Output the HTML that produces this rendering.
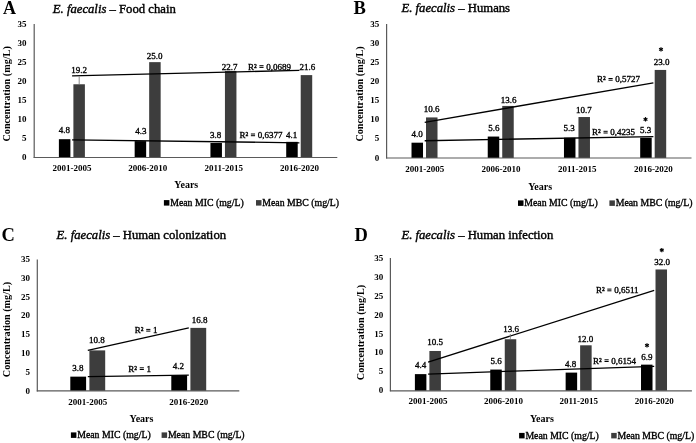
<!DOCTYPE html>
<html><head><meta charset="utf-8"><style>
html,body{margin:0;padding:0;background:#fff;}
svg{display:block;font-family:'Liberation Serif', serif;filter:blur(0.4px);}
</style></head><body>
<svg width="696" height="443" viewBox="0 0 696 443">
<rect width="696" height="443" fill="#fff"/>
<rect x="58.89" y="139.19" width="11.50" height="18.31" fill="#000000"/>
<rect x="73.39" y="84.27" width="11.50" height="73.23" fill="#3d3d3d"/>
<rect x="134.66" y="141.10" width="11.50" height="16.40" fill="#000000"/>
<rect x="149.16" y="62.14" width="11.50" height="95.36" fill="#3d3d3d"/>
<rect x="210.44" y="143.01" width="11.50" height="14.49" fill="#000000"/>
<rect x="224.94" y="70.92" width="11.50" height="86.58" fill="#3d3d3d"/>
<rect x="286.21" y="141.86" width="11.50" height="15.64" fill="#000000"/>
<rect x="300.71" y="75.11" width="11.50" height="82.39" fill="#3d3d3d"/>
<line x1="34.20" y1="24.00" x2="34.20" y2="158.00" stroke="#5a5a5a" stroke-width="1.2"/>
<line x1="33.70" y1="157.50" x2="337.30" y2="157.50" stroke="#5a5a5a" stroke-width="1.2"/>
<text x="26.50" y="160.10" font-size="9" font-weight="bold" text-anchor="end" font-style="normal" fill="#000" >0</text>
<text x="26.50" y="141.03" font-size="9" font-weight="bold" text-anchor="end" font-style="normal" fill="#000" >5</text>
<text x="26.50" y="121.96" font-size="9" font-weight="bold" text-anchor="end" font-style="normal" fill="#000" >10</text>
<text x="26.50" y="102.89" font-size="9" font-weight="bold" text-anchor="end" font-style="normal" fill="#000" >15</text>
<text x="26.50" y="83.81" font-size="9" font-weight="bold" text-anchor="end" font-style="normal" fill="#000" >20</text>
<text x="26.50" y="64.74" font-size="9" font-weight="bold" text-anchor="end" font-style="normal" fill="#000" >25</text>
<text x="26.50" y="45.67" font-size="9" font-weight="bold" text-anchor="end" font-style="normal" fill="#000" >30</text>
<text x="26.50" y="26.60" font-size="9" font-weight="bold" text-anchor="end" font-style="normal" fill="#000" >35</text>
<text x="72.09" y="171.30" font-size="9" font-weight="bold" text-anchor="middle" font-style="normal" fill="#000" >2001-2005</text>
<text x="147.86" y="171.30" font-size="9" font-weight="bold" text-anchor="middle" font-style="normal" fill="#000" >2006-2010</text>
<text x="223.64" y="171.30" font-size="9" font-weight="bold" text-anchor="middle" font-style="normal" fill="#000" >2011-2015</text>
<text x="299.41" y="171.30" font-size="9" font-weight="bold" text-anchor="middle" font-style="normal" fill="#000" >2016-2020</text>
<line x1="72.09" y1="75.91" x2="299.41" y2="70.31" stroke="#000" stroke-width="1.3"/>
<line x1="72.09" y1="139.80" x2="299.41" y2="142.78" stroke="#000" stroke-width="1.3"/>
<line x1="79.20" y1="76.50" x2="79.20" y2="84.00" stroke="#707070" stroke-width="0.8"/>
<text x="64.40" y="133.30" font-size="9" font-weight="normal" text-anchor="middle" font-style="normal" fill="#000" stroke="#000" stroke-width="0.35" >4.8</text>
<text x="79.00" y="73.00" font-size="9" font-weight="normal" text-anchor="middle" font-style="normal" fill="#000" stroke="#000" stroke-width="0.35" >19.2</text>
<text x="140.80" y="134.20" font-size="9" font-weight="normal" text-anchor="middle" font-style="normal" fill="#000" stroke="#000" stroke-width="0.35" >4.3</text>
<text x="154.50" y="58.80" font-size="9" font-weight="normal" text-anchor="middle" font-style="normal" fill="#000" stroke="#000" stroke-width="0.35" >25.0</text>
<text x="215.70" y="138.40" font-size="9" font-weight="normal" text-anchor="middle" font-style="normal" fill="#000" stroke="#000" stroke-width="0.35" >3.8</text>
<text x="229.50" y="69.60" font-size="9" font-weight="normal" text-anchor="middle" font-style="normal" fill="#000" stroke="#000" stroke-width="0.35" >22.7</text>
<text x="291.50" y="137.90" font-size="9" font-weight="normal" text-anchor="middle" font-style="normal" fill="#000" stroke="#000" stroke-width="0.35" >4.1</text>
<text x="307.30" y="70.20" font-size="9" font-weight="normal" text-anchor="middle" font-style="normal" fill="#000" stroke="#000" stroke-width="0.35" >21.6</text>
<text x="247.99" y="69.60" font-size="9" font-weight="normal" text-anchor="start" font-style="normal" fill="#000" stroke="#000" stroke-width="0.35" >R²</text>
<rect x="259.38" y="65.20" width="4.18" height="1.00" fill="#000"/>
<rect x="259.38" y="66.90" width="4.18" height="1.00" fill="#000"/>
<text x="266.26" y="69.60" font-size="9" font-weight="normal" text-anchor="start" font-style="normal" fill="#000" stroke="#000" stroke-width="0.35" >0,0689</text>
<text x="239.49" y="137.90" font-size="9" font-weight="normal" text-anchor="start" font-style="normal" fill="#000" stroke="#000" stroke-width="0.35" >R²</text>
<rect x="250.88" y="133.50" width="4.18" height="1.00" fill="#000"/>
<rect x="250.88" y="135.20" width="4.18" height="1.00" fill="#000"/>
<text x="257.76" y="137.90" font-size="9" font-weight="normal" text-anchor="start" font-style="normal" fill="#000" stroke="#000" stroke-width="0.35" >0,6377</text>
<text x="3.00" y="14.00" font-size="18" font-weight="bold" text-anchor="start" font-style="normal" fill="#000" >A</text>
<text x="52.8" y="13.1" font-size="12.7" text-anchor="start" stroke="#000" stroke-width="0.4"><tspan font-style="italic">E. faecalis</tspan> – Food chain</text>
<text x="9.80" y="93.90" font-size="10.2" font-weight="bold" text-anchor="middle" font-style="normal" fill="#000" transform="rotate(-90 9.80 93.90)">Concentration (mg/L)</text>
<text x="186.30" y="188.20" font-size="10" font-weight="bold" text-anchor="middle" font-style="normal" fill="#000" >Years</text>
<rect x="163.90" y="200.10" width="5.50" height="5.50" fill="#000000"/>
<text x="170.20" y="206.10" font-size="9.8" font-weight="normal" text-anchor="start" font-style="normal" fill="#000" stroke="#000" stroke-width="0.35" >Mean MIC (mg/L)</text>
<rect x="256.00" y="200.10" width="5.50" height="5.50" fill="#3d3d3d"/>
<text x="262.30" y="206.10" font-size="9.8" font-weight="normal" text-anchor="start" font-style="normal" fill="#000" stroke="#000" stroke-width="0.35" >Mean MBC (mg/L)</text>
<rect x="411.51" y="142.69" width="11.50" height="15.31" fill="#000000"/>
<rect x="426.01" y="117.42" width="11.50" height="40.58" fill="#3d3d3d"/>
<rect x="487.74" y="136.56" width="11.50" height="21.44" fill="#000000"/>
<rect x="502.24" y="105.93" width="11.50" height="52.07" fill="#3d3d3d"/>
<rect x="563.96" y="137.71" width="11.50" height="20.29" fill="#000000"/>
<rect x="578.46" y="117.03" width="11.50" height="40.97" fill="#3d3d3d"/>
<rect x="640.19" y="137.71" width="11.50" height="20.29" fill="#000000"/>
<rect x="654.69" y="69.94" width="11.50" height="88.06" fill="#3d3d3d"/>
<line x1="386.60" y1="24.00" x2="386.60" y2="158.50" stroke="#5a5a5a" stroke-width="1.2"/>
<line x1="386.10" y1="158.00" x2="691.50" y2="158.00" stroke="#5a5a5a" stroke-width="1.2"/>
<text x="379.20" y="160.60" font-size="9" font-weight="bold" text-anchor="end" font-style="normal" fill="#000" >0</text>
<text x="379.20" y="141.46" font-size="9" font-weight="bold" text-anchor="end" font-style="normal" fill="#000" >5</text>
<text x="379.20" y="122.31" font-size="9" font-weight="bold" text-anchor="end" font-style="normal" fill="#000" >10</text>
<text x="379.20" y="103.17" font-size="9" font-weight="bold" text-anchor="end" font-style="normal" fill="#000" >15</text>
<text x="379.20" y="84.03" font-size="9" font-weight="bold" text-anchor="end" font-style="normal" fill="#000" >20</text>
<text x="379.20" y="64.89" font-size="9" font-weight="bold" text-anchor="end" font-style="normal" fill="#000" >25</text>
<text x="379.20" y="45.74" font-size="9" font-weight="bold" text-anchor="end" font-style="normal" fill="#000" >30</text>
<text x="379.20" y="26.60" font-size="9" font-weight="bold" text-anchor="end" font-style="normal" fill="#000" >35</text>
<text x="424.71" y="171.80" font-size="9" font-weight="bold" text-anchor="middle" font-style="normal" fill="#000" >2001-2005</text>
<text x="500.94" y="171.80" font-size="9" font-weight="bold" text-anchor="middle" font-style="normal" fill="#000" >2006-2010</text>
<text x="577.16" y="171.80" font-size="9" font-weight="bold" text-anchor="middle" font-style="normal" fill="#000" >2011-2015</text>
<text x="653.39" y="171.80" font-size="9" font-weight="bold" text-anchor="middle" font-style="normal" fill="#000" >2016-2020</text>
<line x1="424.71" y1="122.28" x2="653.39" y2="82.88" stroke="#000" stroke-width="1.3"/>
<line x1="424.71" y1="140.73" x2="653.39" y2="136.60" stroke="#000" stroke-width="1.3"/>
<text x="417.10" y="137.00" font-size="9" font-weight="normal" text-anchor="middle" font-style="normal" fill="#000" stroke="#000" stroke-width="0.35" >4.0</text>
<text x="431.60" y="111.60" font-size="9" font-weight="normal" text-anchor="middle" font-style="normal" fill="#000" stroke="#000" stroke-width="0.35" >10.6</text>
<text x="493.90" y="130.90" font-size="9" font-weight="normal" text-anchor="middle" font-style="normal" fill="#000" stroke="#000" stroke-width="0.35" >5.6</text>
<text x="508.50" y="103.20" font-size="9" font-weight="normal" text-anchor="middle" font-style="normal" fill="#000" stroke="#000" stroke-width="0.35" >13.6</text>
<text x="569.20" y="131.10" font-size="9" font-weight="normal" text-anchor="middle" font-style="normal" fill="#000" stroke="#000" stroke-width="0.35" >5.3</text>
<text x="583.80" y="113.00" font-size="9" font-weight="normal" text-anchor="middle" font-style="normal" fill="#000" stroke="#000" stroke-width="0.35" >10.7</text>
<text x="645.50" y="132.50" font-size="9" font-weight="normal" text-anchor="middle" font-style="normal" fill="#000" stroke="#000" stroke-width="0.35" >5.3</text>
<text x="661.70" y="64.80" font-size="9" font-weight="normal" text-anchor="middle" font-style="normal" fill="#000" stroke="#000" stroke-width="0.35" >23.0</text>
<text x="597.09" y="82.40" font-size="9" font-weight="normal" text-anchor="start" font-style="normal" fill="#000" stroke="#000" stroke-width="0.35" >R²</text>
<rect x="608.49" y="78.00" width="4.18" height="1.00" fill="#000"/>
<rect x="608.49" y="79.70" width="4.18" height="1.00" fill="#000"/>
<text x="615.37" y="82.40" font-size="9" font-weight="normal" text-anchor="start" font-style="normal" fill="#000" stroke="#000" stroke-width="0.35" >0,5727</text>
<text x="592.09" y="135.20" font-size="9" font-weight="normal" text-anchor="start" font-style="normal" fill="#000" stroke="#000" stroke-width="0.35" >R²</text>
<rect x="603.49" y="130.80" width="4.18" height="1.00" fill="#000"/>
<rect x="603.49" y="132.50" width="4.18" height="1.00" fill="#000"/>
<text x="610.37" y="135.20" font-size="9" font-weight="normal" text-anchor="start" font-style="normal" fill="#000" stroke="#000" stroke-width="0.35" >0,4235</text>
<line x1="645.50" y1="117.10" x2="645.50" y2="121.50" stroke="#000" stroke-width="1.2"/>
<line x1="643.59" y1="118.20" x2="647.41" y2="120.40" stroke="#000" stroke-width="1.2"/>
<line x1="647.41" y1="118.20" x2="643.59" y2="120.40" stroke="#000" stroke-width="1.2"/>
<line x1="661.00" y1="47.20" x2="661.00" y2="51.60" stroke="#000" stroke-width="1.2"/>
<line x1="659.09" y1="48.30" x2="662.91" y2="50.50" stroke="#000" stroke-width="1.2"/>
<line x1="662.91" y1="48.30" x2="659.09" y2="50.50" stroke="#000" stroke-width="1.2"/>
<text x="353.60" y="13.80" font-size="18.5" font-weight="bold" text-anchor="start" font-style="normal" fill="#000" >B</text>
<text x="401.5" y="11.8" font-size="12.7" text-anchor="start" stroke="#000" stroke-width="0.4"><tspan font-style="italic">E. faecalis</tspan> – Humans</text>
<text x="362.60" y="93.90" font-size="10.2" font-weight="bold" text-anchor="middle" font-style="normal" fill="#000" transform="rotate(-90 362.60 93.90)">Concentration (mg/L)</text>
<text x="540.20" y="189.60" font-size="10" font-weight="bold" text-anchor="middle" font-style="normal" fill="#000" >Years</text>
<rect x="518.00" y="200.40" width="5.50" height="5.50" fill="#000000"/>
<text x="524.30" y="206.40" font-size="9.8" font-weight="normal" text-anchor="start" font-style="normal" fill="#000" stroke="#000" stroke-width="0.35" >Mean MIC (mg/L)</text>
<rect x="609.40" y="200.40" width="5.50" height="5.50" fill="#3d3d3d"/>
<text x="615.70" y="206.40" font-size="9.8" font-weight="normal" text-anchor="start" font-style="normal" fill="#000" stroke="#000" stroke-width="0.35" >Mean MBC (mg/L)</text>
<rect x="70.30" y="376.64" width="15.80" height="14.26" fill="#000000"/>
<rect x="89.40" y="350.38" width="15.80" height="40.52" fill="#3d3d3d"/>
<rect x="171.30" y="375.14" width="15.80" height="15.76" fill="#000000"/>
<rect x="190.40" y="327.88" width="15.80" height="63.02" fill="#3d3d3d"/>
<line x1="37.30" y1="259.60" x2="37.30" y2="391.40" stroke="#5a5a5a" stroke-width="1.2"/>
<line x1="36.80" y1="390.90" x2="239.30" y2="390.90" stroke="#5a5a5a" stroke-width="1.2"/>
<text x="30.00" y="393.50" font-size="9" font-weight="bold" text-anchor="end" font-style="normal" fill="#000" >0</text>
<text x="30.00" y="374.74" font-size="9" font-weight="bold" text-anchor="end" font-style="normal" fill="#000" >5</text>
<text x="30.00" y="355.99" font-size="9" font-weight="bold" text-anchor="end" font-style="normal" fill="#000" >10</text>
<text x="30.00" y="337.23" font-size="9" font-weight="bold" text-anchor="end" font-style="normal" fill="#000" >15</text>
<text x="30.00" y="318.47" font-size="9" font-weight="bold" text-anchor="end" font-style="normal" fill="#000" >20</text>
<text x="30.00" y="299.71" font-size="9" font-weight="bold" text-anchor="end" font-style="normal" fill="#000" >25</text>
<text x="30.00" y="280.96" font-size="9" font-weight="bold" text-anchor="end" font-style="normal" fill="#000" >30</text>
<text x="30.00" y="262.20" font-size="9" font-weight="bold" text-anchor="end" font-style="normal" fill="#000" >35</text>
<text x="87.80" y="404.60" font-size="9" font-weight="bold" text-anchor="middle" font-style="normal" fill="#000" >2001-2005</text>
<text x="188.80" y="404.60" font-size="9" font-weight="bold" text-anchor="middle" font-style="normal" fill="#000" >2016-2020</text>
<line x1="87.80" y1="350.38" x2="188.80" y2="327.88" stroke="#000" stroke-width="1.3"/>
<line x1="87.80" y1="376.64" x2="188.80" y2="375.14" stroke="#000" stroke-width="1.3"/>
<text x="77.80" y="370.60" font-size="9" font-weight="normal" text-anchor="middle" font-style="normal" fill="#000" stroke="#000" stroke-width="0.35" >3.8</text>
<text x="96.80" y="343.00" font-size="9" font-weight="normal" text-anchor="middle" font-style="normal" fill="#000" stroke="#000" stroke-width="0.35" >10.8</text>
<text x="178.40" y="369.40" font-size="9" font-weight="normal" text-anchor="middle" font-style="normal" fill="#000" stroke="#000" stroke-width="0.35" >4.2</text>
<text x="199.60" y="323.40" font-size="9" font-weight="normal" text-anchor="middle" font-style="normal" fill="#000" stroke="#000" stroke-width="0.35" >16.8</text>
<text x="134.81" y="333.30" font-size="9" font-weight="normal" text-anchor="start" font-style="normal" fill="#000" stroke="#000" stroke-width="0.35" >R²</text>
<rect x="146.21" y="328.90" width="4.18" height="1.00" fill="#000"/>
<rect x="146.21" y="330.60" width="4.18" height="1.00" fill="#000"/>
<text x="153.09" y="333.30" font-size="9" font-weight="normal" text-anchor="start" font-style="normal" fill="#000" stroke="#000" stroke-width="0.35" >1</text>
<text x="128.31" y="371.70" font-size="9" font-weight="normal" text-anchor="start" font-style="normal" fill="#000" stroke="#000" stroke-width="0.35" >R²</text>
<rect x="139.71" y="367.30" width="4.18" height="1.00" fill="#000"/>
<rect x="139.71" y="369.00" width="4.18" height="1.00" fill="#000"/>
<text x="146.59" y="371.70" font-size="9" font-weight="normal" text-anchor="start" font-style="normal" fill="#000" stroke="#000" stroke-width="0.35" >1</text>
<text x="1.60" y="241.40" font-size="18.5" font-weight="bold" text-anchor="start" font-style="normal" fill="#000" >C</text>
<text x="56.6" y="239.0" font-size="12.7" text-anchor="start" stroke="#000" stroke-width="0.4"><tspan font-style="italic">E. faecalis</tspan> – Human colonization</text>
<text x="10.40" y="329.50" font-size="10.2" font-weight="bold" text-anchor="middle" font-style="normal" fill="#000" transform="rotate(-90 10.40 329.50)">Concentration (mg/L)</text>
<text x="141.50" y="422.00" font-size="10" font-weight="bold" text-anchor="middle" font-style="normal" fill="#000" >Years</text>
<rect x="70.90" y="432.40" width="5.50" height="5.50" fill="#000000"/>
<text x="77.20" y="438.40" font-size="9.8" font-weight="normal" text-anchor="start" font-style="normal" fill="#000" stroke="#000" stroke-width="0.35" >Mean MIC (mg/L)</text>
<rect x="161.60" y="432.40" width="5.50" height="5.50" fill="#3d3d3d"/>
<text x="167.90" y="438.40" font-size="9.8" font-weight="normal" text-anchor="start" font-style="normal" fill="#000" stroke="#000" stroke-width="0.35" >Mean MBC (mg/L)</text>
<rect x="414.89" y="374.12" width="11.50" height="16.68" fill="#000000"/>
<rect x="429.39" y="350.99" width="11.50" height="39.81" fill="#3d3d3d"/>
<rect x="490.26" y="369.57" width="11.50" height="21.23" fill="#000000"/>
<rect x="504.76" y="339.24" width="11.50" height="51.56" fill="#3d3d3d"/>
<rect x="565.64" y="372.60" width="11.50" height="18.20" fill="#000000"/>
<rect x="580.14" y="345.30" width="11.50" height="45.50" fill="#3d3d3d"/>
<rect x="641.01" y="364.64" width="11.50" height="26.16" fill="#000000"/>
<rect x="655.51" y="269.47" width="11.50" height="121.33" fill="#3d3d3d"/>
<line x1="390.40" y1="258.10" x2="390.40" y2="391.30" stroke="#5a5a5a" stroke-width="1.2"/>
<line x1="389.90" y1="390.80" x2="691.90" y2="390.80" stroke="#5a5a5a" stroke-width="1.2"/>
<text x="383.20" y="393.40" font-size="9" font-weight="bold" text-anchor="end" font-style="normal" fill="#000" >0</text>
<text x="383.20" y="374.44" font-size="9" font-weight="bold" text-anchor="end" font-style="normal" fill="#000" >5</text>
<text x="383.20" y="355.49" font-size="9" font-weight="bold" text-anchor="end" font-style="normal" fill="#000" >10</text>
<text x="383.20" y="336.53" font-size="9" font-weight="bold" text-anchor="end" font-style="normal" fill="#000" >15</text>
<text x="383.20" y="317.57" font-size="9" font-weight="bold" text-anchor="end" font-style="normal" fill="#000" >20</text>
<text x="383.20" y="298.61" font-size="9" font-weight="bold" text-anchor="end" font-style="normal" fill="#000" >25</text>
<text x="383.20" y="279.66" font-size="9" font-weight="bold" text-anchor="end" font-style="normal" fill="#000" >30</text>
<text x="383.20" y="260.70" font-size="9" font-weight="bold" text-anchor="end" font-style="normal" fill="#000" >35</text>
<text x="428.09" y="404.10" font-size="9" font-weight="bold" text-anchor="middle" font-style="normal" fill="#000" >2001-2005</text>
<text x="503.46" y="404.10" font-size="9" font-weight="bold" text-anchor="middle" font-style="normal" fill="#000" >2006-2010</text>
<text x="578.84" y="404.10" font-size="9" font-weight="bold" text-anchor="middle" font-style="normal" fill="#000" >2011-2015</text>
<text x="654.21" y="404.10" font-size="9" font-weight="bold" text-anchor="middle" font-style="normal" fill="#000" >2016-2020</text>
<line x1="428.09" y1="362.02" x2="654.21" y2="290.48" stroke="#000" stroke-width="1.3"/>
<line x1="428.09" y1="374.04" x2="654.21" y2="366.42" stroke="#000" stroke-width="1.3"/>
<line x1="510.30" y1="334.00" x2="510.30" y2="339.00" stroke="#707070" stroke-width="0.8"/>
<text x="420.60" y="367.80" font-size="9" font-weight="normal" text-anchor="middle" font-style="normal" fill="#000" stroke="#000" stroke-width="0.35" >4.4</text>
<text x="435.00" y="344.80" font-size="9" font-weight="normal" text-anchor="middle" font-style="normal" fill="#000" stroke="#000" stroke-width="0.35" >10.5</text>
<text x="496.00" y="364.30" font-size="9" font-weight="normal" text-anchor="middle" font-style="normal" fill="#000" stroke="#000" stroke-width="0.35" >5.6</text>
<text x="511.00" y="332.20" font-size="9" font-weight="normal" text-anchor="middle" font-style="normal" fill="#000" stroke="#000" stroke-width="0.35" >13.6</text>
<text x="570.70" y="366.80" font-size="9" font-weight="normal" text-anchor="middle" font-style="normal" fill="#000" stroke="#000" stroke-width="0.35" >4.8</text>
<text x="585.40" y="341.80" font-size="9" font-weight="normal" text-anchor="middle" font-style="normal" fill="#000" stroke="#000" stroke-width="0.35" >12.0</text>
<text x="646.80" y="360.10" font-size="9" font-weight="normal" text-anchor="middle" font-style="normal" fill="#000" stroke="#000" stroke-width="0.35" >6.9</text>
<text x="662.10" y="264.60" font-size="9" font-weight="normal" text-anchor="middle" font-style="normal" fill="#000" stroke="#000" stroke-width="0.35" >32.0</text>
<text x="595.88" y="293.00" font-size="9" font-weight="normal" text-anchor="start" font-style="normal" fill="#000" stroke="#000" stroke-width="0.35" >R²</text>
<rect x="607.29" y="288.60" width="4.18" height="1.00" fill="#000"/>
<rect x="607.29" y="290.30" width="4.18" height="1.00" fill="#000"/>
<text x="614.17" y="293.00" font-size="9" font-weight="normal" text-anchor="start" font-style="normal" fill="#000" stroke="#000" stroke-width="0.35" >0,6511</text>
<text x="593.09" y="363.70" font-size="9" font-weight="normal" text-anchor="start" font-style="normal" fill="#000" stroke="#000" stroke-width="0.35" >R²</text>
<rect x="604.49" y="359.30" width="4.18" height="1.00" fill="#000"/>
<rect x="604.49" y="361.00" width="4.18" height="1.00" fill="#000"/>
<text x="611.37" y="363.70" font-size="9" font-weight="normal" text-anchor="start" font-style="normal" fill="#000" stroke="#000" stroke-width="0.35" >0,6154</text>
<line x1="647.00" y1="343.20" x2="647.00" y2="347.60" stroke="#000" stroke-width="1.2"/>
<line x1="645.09" y1="344.30" x2="648.91" y2="346.50" stroke="#000" stroke-width="1.2"/>
<line x1="648.91" y1="344.30" x2="645.09" y2="346.50" stroke="#000" stroke-width="1.2"/>
<line x1="661.80" y1="247.90" x2="661.80" y2="252.30" stroke="#000" stroke-width="1.2"/>
<line x1="659.89" y1="249.00" x2="663.71" y2="251.20" stroke="#000" stroke-width="1.2"/>
<line x1="663.71" y1="249.00" x2="659.89" y2="251.20" stroke="#000" stroke-width="1.2"/>
<text x="354.60" y="240.70" font-size="18.5" font-weight="bold" text-anchor="start" font-style="normal" fill="#000" >D</text>
<text x="401.4" y="238.6" font-size="12.7" text-anchor="start" stroke="#000" stroke-width="0.4"><tspan font-style="italic">E. faecalis</tspan> – Human infection</text>
<text x="364.20" y="332.50" font-size="10.2" font-weight="bold" text-anchor="middle" font-style="normal" fill="#000" transform="rotate(-90 364.20 332.50)">Concentration (mg/L)</text>
<text x="541.90" y="421.80" font-size="10" font-weight="bold" text-anchor="middle" font-style="normal" fill="#000" >Years</text>
<rect x="519.10" y="432.90" width="5.50" height="5.50" fill="#000000"/>
<text x="525.40" y="438.90" font-size="9.8" font-weight="normal" text-anchor="start" font-style="normal" fill="#000" stroke="#000" stroke-width="0.35" >Mean MIC (mg/L)</text>
<rect x="611.20" y="432.90" width="5.50" height="5.50" fill="#3d3d3d"/>
<text x="617.50" y="438.90" font-size="9.8" font-weight="normal" text-anchor="start" font-style="normal" fill="#000" stroke="#000" stroke-width="0.35" >Mean MBC (mg/L)</text>
</svg></body></html>
